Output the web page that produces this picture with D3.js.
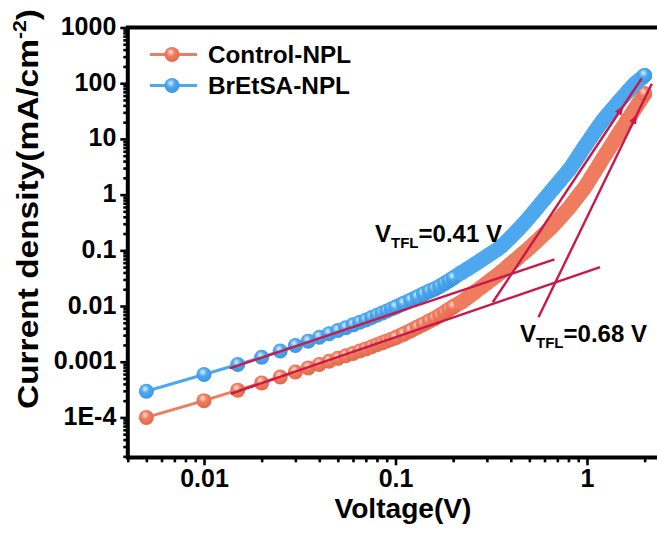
<!DOCTYPE html>
<html>
<head>
<meta charset="utf-8">
<script src="https://cdn.jsdelivr.net/npm/d3@7"></script>
<style>
  html, body { margin: 0; padding: 0; background: #fff; }
  svg { display: block; font-family: Arial, "Liberation Sans", Helvetica, sans-serif; font-weight: bold; }
</style>
</head>
<body>
<svg id="chart" width="657" height="533"></svg>
<script>
// ---------------- data ----------------
const voltage = [0.005,0.01,0.015,0.02,0.025,0.03,0.035,0.04,0.045,0.05,0.055,0.06,0.065,0.07,0.075,0.08,0.085,0.09,0.095,0.1,
  0.11,0.12,0.13,0.14,0.15,0.16,0.17,0.18,0.19,0.2,
  0.22,0.24,0.26,0.28,0.3,0.32,0.34,0.36,0.38,0.4,0.42,0.44,0.46,0.48,0.5,
  0.525,0.55,0.575,0.6,0.625,0.65,0.675,0.7,0.725,0.75,0.775,0.8,0.825,0.85,0.875,0.9,0.925,0.95,0.975,1.0,
  1.05,1.1,1.15,1.2,1.25,1.3,1.35,1.4,1.45,1.5,1.55,1.6,1.65,1.7,1.75,1.8,1.85,1.9,1.95,2.0];

const controlNPL = [1.00e-4,2.00e-4,3.09e-4,4.17e-4,5.31e-4,6.53e-4,7.74e-4,8.95e-4,1.02e-3,1.15e-3,1.28e-3,1.41e-3,1.56e-3,1.70e-3,1.86e-3,2.02e-3,2.18e-3,2.35e-3,2.52e-3,2.69e-3,
  3.13e-3,3.61e-3,4.15e-3,4.73e-3,5.36e-3,5.98e-3,6.76e-3,7.64e-3,8.65e-3,9.66e-3,
  0.01167,0.01445,0.01778,0.0216,0.0259,0.0307,0.0358,0.0419,0.0492,0.0573,0.0659,0.0755,0.0863,0.0975,0.110,
  0.129,0.149,0.173,0.198,0.226,0.257,0.294,0.338,0.386,0.441,0.498,0.562,0.643,0.735,0.836,0.948,1.072,1.205,1.352,1.549,
  2.02,2.61,3.33,4.27,5.32,6.56,8.05,9.80,11.86,14.2,16.9,19.9,23.3,27.2,31.8,36.8,42.5,48.8,56.5,64.6];

const brEtSANPL = [2.95e-4,5.89e-4,8.91e-4,1.20e-3,1.56e-3,1.95e-3,2.34e-3,2.75e-3,3.18e-3,3.63e-3,4.09e-3,4.59e-3,5.11e-3,5.62e-3,6.22e-3,6.84e-3,7.46e-3,8.15e-3,8.85e-3,9.55e-3,
  0.01107,0.01268,0.01445,0.01637,0.01841,0.0202,0.0226,0.0253,0.0284,0.0318,
  0.0394,0.0472,0.0565,0.0667,0.0782,0.0904,0.1033,0.1213,0.1445,0.1718,0.204,0.241,0.285,0.333,0.393,
  0.479,0.578,0.701,0.832,0.986,1.159,1.343,1.563,1.80,2.07,2.37,2.69,3.10,3.60,4.18,4.85,5.61,6.47,7.40,8.41,
  10.74,13.55,16.9,20.7,24.7,28.9,33.5,38.8,44.9,51.0,58.1,65.5,74.0,83.0,92.5,101.4,109.4,118.0,127.9,138.0];

const seriesNames = ["Control-NPL", "BrEtSA-NPL"];

// fit lines: [V1, J1, V2, J2]
const fitOhmicBr = [0.0136, 7.6e-4, 0.676, 0.0687];
const fitOhmicCtrl = [0.0138, 2.66e-4, 1.17, 0.0499];
const fitTflBr = [0.322, 0.0117, 1.93, 122];
const fitTflCtrl = [0.558, 6.3e-3, 2.18, 98];

const yTickValues = [1e-4, 1e-3, 1e-2, 1e-1, 1, 10, 100, 1000];
const yTickLabels = ["1E-4", "0.001", "0.01", "0.1", "1", "10", "100", "1000"];
const xTickValues = [0.01, 0.1, 1];
const xTickLabels = ["0.01", "0.1", "1"];

const vtflLabels = [{ pre: "V", sub: "TFL", post: "=0.41 V" }, { pre: "V", sub: "TFL", post: "=0.68 V" }];

// ---------------- layout ----------------
const svg = d3.select("#chart");
const colors = { ctrl: "#ef7c5e", br: "#4da8f0", fit: "#c9184a" };

const x = d3.scaleLog().domain([0.004, 2.5]).range([127.8, 663.2]);
const y = d3.scaleLog().domain([1.9e-5, 1000]).range([457.6, 27.5]);

// gradients
const defs = svg.append("defs");
function sphere(id, light, base, dark) {
  const g = defs.append("radialGradient").attr("id", id)
    .attr("cx", "45%").attr("cy", "40%").attr("r", "60%").attr("fx", "40%").attr("fy", "32%");
  g.append("stop").attr("offset", "0%").attr("stop-color", light);
  g.append("stop").attr("offset", "45%").attr("stop-color", base);
  g.append("stop").attr("offset", "100%").attr("stop-color", dark);
}
sphere("gCtrl", "#ffe0d4", colors.ctrl, "#e4684a");
sphere("gBr", "#dff1ff", colors.br, "#3b94e0");

defs.append("marker").attr("id", "arrow").attr("viewBox", "0 0 10 10")
  .attr("refX", 5).attr("refY", 5).attr("markerWidth", 4).attr("markerHeight", 4)
  .attr("orient", "auto").attr("markerUnits", "strokeWidth")
  .append("path").attr("d", "M0,1 L10,5 L0,9 Z").attr("fill", colors.fit);

// ---------------- axes ----------------
function minorTicks(lo, hi) {
  const out = [];
  for (let e = -6; e <= 3; e++) for (let m = 2; m <= 9; m++) {
    const v = m * Math.pow(10, e);
    if (v >= lo && v <= hi) out.push(v);
  }
  return out;
}

const gx = svg.append("g").attr("transform", "translate(0,457.3)");
gx.call(d3.axisBottom(x).tickValues(minorTicks(0.004, 2.5)).tickSize(5).tickFormat(""));
gx.call(g => g.selectAll(".domain").remove());
const gx2 = svg.append("g").attr("transform", "translate(0,457.3)");
gx2.call(d3.axisBottom(x).tickValues(xTickValues).tickSize(8).tickPadding(4)
  .tickFormat((d, i) => xTickLabels[i]));
gx2.select(".domain").remove();

const gy = svg.append("g").attr("transform", "translate(128.3,0)");
gy.call(d3.axisLeft(y).tickValues(minorTicks(1.9e-5, 1000)).tickSize(5).tickFormat(""));
gy.select(".domain").remove();
const gy2 = svg.append("g").attr("transform", "translate(128.3,0)");
gy2.call(d3.axisLeft(y).tickValues(yTickValues).tickSize(8).tickPadding(4)
  .tickFormat((d, i) => yTickLabels[i]));
gy2.select(".domain").remove();

svg.selectAll(".tick line").attr("stroke", "#000").attr("stroke-width", 2.6);
svg.selectAll(".tick text").attr("fill", "#000").attr("font-size", 25)
  .attr("font-weight", "bold").attr("font-family", "Arial, 'Liberation Sans', sans-serif");
gy2.selectAll(".tick text").attr("dy", "0.28em");
gx2.selectAll(".tick text").attr("dy", "0.71em");

// frame: left, bottom, top
const frame = svg.append("g").attr("stroke", "#000").attr("stroke-width", 4).attr("fill", "none");
frame.append("path").attr("d", `M${x(2.5)},${y(1000)} H${x(0.004)} V${y(1.9e-5)} H${x(2.5)}`)
  .attr("stroke-linecap", "square");

// ---------------- data series ----------------
function drawSeries(vals, col, grad) {
  const pts = voltage.map((v, i) => [v, vals[i]]);
  const line = d3.line().x(d => x(d[0])).y(d => y(d[1]));
  svg.append("path").datum(pts).attr("d", line)
    .attr("fill", "none").attr("stroke", col).attr("stroke-width", 3);
  // dense region: overlapping markers merge into a band
  svg.append("path").datum(pts.filter(d => d[0] >= 0.1)).attr("d", line)
    .attr("fill", "none").attr("stroke", col).attr("stroke-width", 15)
    .attr("stroke-linecap", "round").attr("stroke-linejoin", "round");
  const last = pts.length - 1;
  svg.append("g").selectAll("circle").data(pts).join("circle")
    .attr("cx", d => x(d[0])).attr("cy", d => y(d[1])).attr("r", 7.5)
    .attr("fill", (d, i) => (d[0] <= 0.2 || i === last) ? `url(#${grad})` : col);
}
drawSeries(controlNPL, colors.ctrl, "gCtrl");
drawSeries(brEtSANPL, colors.br, "gBr");

// ---------------- fit lines ----------------
function fitLine(f, arrowT) {
  const p1 = [x(f[0]), y(f[1])], p2 = [x(f[2]), y(f[3])];
  const pts = [p1];
  if (arrowT) pts.push([p1[0] + (p2[0] - p1[0]) * arrowT, p1[1] + (p2[1] - p1[1]) * arrowT]);
  pts.push(p2);
  const p = svg.append("path").attr("d", d3.line()(pts))
    .attr("fill", "none").attr("stroke", colors.fit).attr("stroke-width", 2.4);
  if (arrowT) p.attr("marker-mid", "url(#arrow)");
}
fitLine(fitOhmicBr);
fitLine(fitOhmicCtrl);
fitLine(fitTflBr, 0.86);
fitLine(fitTflCtrl, 0.85);

// ---------------- annotations ----------------
function vtfl(lbl, px, py) {
  const t = svg.append("text").attr("x", px).attr("y", py).attr("font-size", 24).attr("fill", "#000");
  t.append("tspan").text(lbl.pre);
  t.append("tspan").attr("dy", 6).attr("font-size", 15).text(lbl.sub);
  t.append("tspan").attr("dy", -6).attr("font-size", 24).text(lbl.post);
}
vtfl(vtflLabels[0], 375, 242);
vtfl(vtflLabels[1], 520, 342);

// ---------------- legend ----------------
const legend = [
  { name: seriesNames[0], col: colors.ctrl, grad: "gCtrl", yy: 54.5, w: 143 },
  { name: seriesNames[1], col: colors.br, grad: "gBr", yy: 85.5, w: 142 }
];
legend.forEach(l => {
  svg.append("line").attr("x1", 150).attr("x2", 197).attr("y1", l.yy).attr("y2", l.yy)
    .attr("stroke", l.col).attr("stroke-width", 3);
  svg.append("circle").attr("cx", 172).attr("cy", l.yy).attr("r", 7.5).attr("fill", `url(#${l.grad})`);
  svg.append("text").attr("x", 208).attr("y", l.yy + 8.5).attr("font-size", 24).attr("fill", "#000")
    .attr("textLength", l.w).attr("lengthAdjust", "spacingAndGlyphs").text(l.name);
});

// ---------------- axis titles ----------------
svg.append("text").attr("x", 403).attr("y", 518).attr("text-anchor", "middle")
  .attr("font-size", 27).attr("fill", "#000").attr("textLength", 137).attr("lengthAdjust", "spacingAndGlyphs")
  .text("Voltage(V)");

const yt = svg.append("text").attr("transform", "translate(38,209) rotate(-90)")
  .attr("text-anchor", "middle").attr("font-size", 30).attr("fill", "#000")
  .attr("textLength", 400).attr("lengthAdjust", "spacingAndGlyphs");
yt.append("tspan").text("Current density(mA/cm");
yt.append("tspan").attr("dy", -12).attr("font-size", 19).text("-2");
yt.append("tspan").attr("dy", 12).attr("font-size", 30).text(")");
</script>
</body>
</html>
